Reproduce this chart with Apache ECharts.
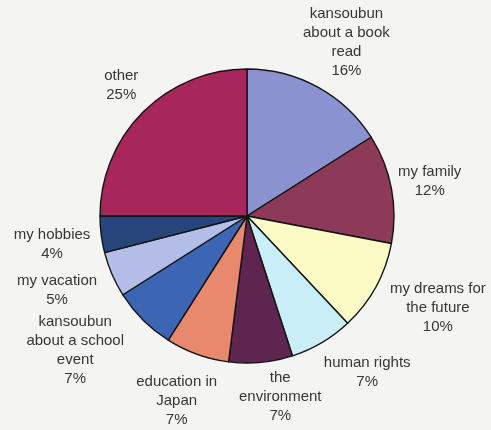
<!DOCTYPE html>
<html>
<head>
<meta charset="utf-8">
<script src="https://cdn.jsdelivr.net/npm/echarts@6/dist/echarts.min.js"></script>
<style>
  html, body { margin: 0; padding: 0; background: #f4f4f2; }
  #chart { width: 491px; height: 430px; }
</style>
</head>
<body>
<div id="chart"></div>
<script>
// Essay topics and their shares (percent), clockwise from 12 o'clock
const topics = [
  'kansoubun\nabout a book\nread',
  'my family',
  'my dreams for\nthe future',
  'human rights',
  'the\nenvironment',
  'education in\nJapan',
  'kansoubun\nabout a school\nevent',
  'my vacation',
  'my hobbies',
  'other'
];
const shares = [16, 12, 10, 7, 7, 7, 7, 5, 4, 25];
const sliceColors = [
  '#8a93d0', '#8c3a58', '#fbfbc6', '#c9eef8', '#5e2550',
  '#e8896e', '#3c65b3', '#b4bce8', '#27457a', '#a8275a'
];
// label placement: distance from centre and small angular nudge (degrees)
const labelDist = [200, 186, 212, 197, 184, 198, 218, 204, 197, 181];
const labelTurn = [1, 0, -3, -7, -5, 1, 7, 2, -1, 1];

const CX = 247, CY = 216, R = 147;

const total = shares.reduce((a, b) => a + b, 0);
const midAngles = [];
let acc = 0;
shares.forEach(v => { midAngles.push((acc + v / 2) / total * 360); acc += v; });

const chart = echarts.init(document.getElementById('chart'), null, { renderer: 'canvas' });
chart.setOption({
  backgroundColor: '#f4f4f2',
  animation: false,
  series: [{
    type: 'pie',
    center: [CX, CY],
    radius: R,
    startAngle: 90,
    clockwise: true,
    data: topics.map((t, i) => ({ name: t, value: shares[i], itemStyle: { color: sliceColors[i] } })),
    itemStyle: { borderColor: '#141414', borderWidth: 1.4 },
    label: {
      show: true,
      position: 'outside',
      overflow: 'none',
      formatter: p => p.name + '\n' + p.value + '%',
      fontFamily: 'Liberation Sans, Arial, sans-serif',
      fontSize: 15,
      lineHeight: 19,
      color: '#363636',
      align: 'center'
    },
    labelLine: { show: false },
    labelLayout: p => {
      const i = p.dataIndex;
      const a = (midAngles[i] + labelTurn[i]) * Math.PI / 180;
      return {
        x: CX + labelDist[i] * Math.sin(a),
        y: CY - labelDist[i] * Math.cos(a),
        align: 'center',
        verticalAlign: 'middle'
      };
    },
    emphasis: { disabled: true }
  }]
});
</script>
</body>
</html>
